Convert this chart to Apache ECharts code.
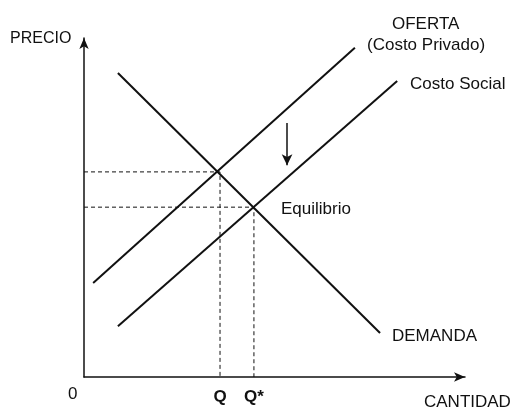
<!DOCTYPE html>
<html>
<head>
<meta charset="utf-8">
<script src="https://cdn.jsdelivr.net/npm/echarts@6/dist/echarts.min.js"></script>
<style>html,body{margin:0;padding:0;background:#fff}#c{width:513px;height:410px}</style>
</head>
<body>
<div id="c"></div>
<script>
// Curves (quantity, price) in chart units 0-100
const demanda = [[8.9, 89.7], [77.7, 13.0]];
const oferta = [[2.4, 27.7], [71.1, 97.1]];
const costoSocial = [[8.9, 15.0], [82.2, 87.3]];
// Equilibrium quantities / prices
const qValues = [35.7, 44.6];
const pValues = [60.5, 50.1];
const qLabels = ['Q', 'Q*'];
// Shift arrow (x, yStart, yEnd)
const shiftArrow = [53.3, 74.9, 62.5];

const FONT = 'Liberation Sans, Arial, sans-serif';
const chart = echarts.init(document.getElementById('c'));

const dashedSeries = qValues.map((q, i) => ({
  type: 'line', symbol: 'none', silent: true,
  data: [[0, pValues[i]], [q, pValues[i]], [q, 0]],
  lineStyle: { color: '#111', width: 1, type: [4, 3] }
}));

const solid = (d) => ({
  type: 'line', symbol: 'none', silent: true, data: d,
  lineStyle: { color: '#111', width: 2 }
});

chart.setOption({
  animation: false,
  backgroundColor: '#fff',
  grid: { left: 84, top: 38, width: 381, height: 339 },
  xAxis: {
    type: 'value', min: 0, max: 100,
    splitLine: { show: false },
    axisTick: { show: false },
    axisLine: { lineStyle: { color: '#111', width: 1.5 }, symbol: ['none', 'arrow'], symbolSize: [7, 11] },
    axisLabel: {
      customValues: qValues,
      formatter: (v) => qLabels[qValues.indexOf(v)] || '',
      color: '#111', fontFamily: FONT, fontSize: 17, fontWeight: 'bold', margin: 12
    }
  },
  yAxis: {
    type: 'value', min: 0, max: 100,
    splitLine: { show: false },
    axisTick: { show: false },
    axisLabel: { show: false },
    axisLine: { lineStyle: { color: '#111', width: 1.5 }, symbol: ['none', 'arrow'], symbolSize: [7, 11] }
  },
  series: [
    ...dashedSeries,
    solid(demanda),
    solid(oferta),
    solid(costoSocial),
    {
      type: 'line', symbol: 'none', data: [], silent: true,
      markLine: {
        silent: true, symbol: ['none', 'arrow'], symbolSize: [8, 11], label: { show: false },
        lineStyle: { color: '#111', width: 1.5, type: 'solid' },
        data: [[{ coord: [shiftArrow[0], shiftArrow[1]] }, { coord: [shiftArrow[0], shiftArrow[2]] }]]
      }
    }
  ],
  graphic: [
    { type: 'text', left: 10, top: 31, style: { text: 'PRECIO', font: '16px ' + FONT, fill: '#111' } },
    { type: 'text', left: 68, top: 386, style: { text: '0', font: '17px ' + FONT, fill: '#111' } },
    { type: 'text', left: 424, top: 394, style: { text: 'CANTIDAD', font: '17px ' + FONT, fill: '#111' } },
    { type: 'text', left: 392, top: 328, style: { text: 'DEMANDA', font: '17px ' + FONT, fill: '#111' } },
    { type: 'text', left: 281, top: 201, style: { text: 'Equilibrio', font: '17px ' + FONT, fill: '#111' } },
    { type: 'text', left: 392, top: 16, style: { text: 'OFERTA', font: '17px ' + FONT, fill: '#111' } },
    { type: 'text', left: 367, top: 37, style: { text: '(Costo Privado)', font: '17px ' + FONT, fill: '#111' } },
    { type: 'text', left: 410, top: 76, style: { text: 'Costo Social', font: '17px ' + FONT, fill: '#111' } }
  ]
});
</script>
</body>
</html>
